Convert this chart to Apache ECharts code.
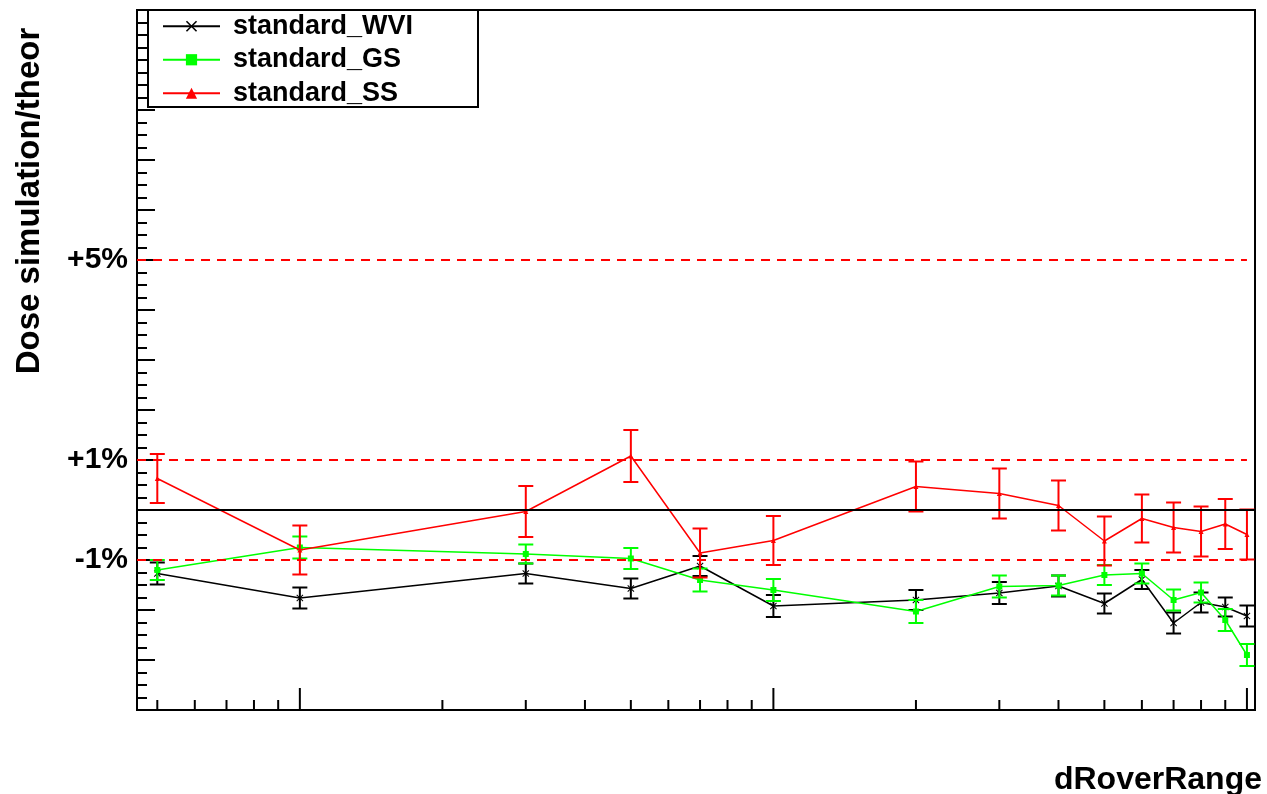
<!DOCTYPE html>
<html>
<head>
<meta charset="utf-8">
<script src="https://cdn.jsdelivr.net/npm/echarts@6/dist/echarts.min.js"></script>
<style>
  html, body { margin: 0; padding: 0; background: #fff; }
  #chart { width: 1267px; height: 794px; }
</style>
</head>
<body>
<div id="chart"></div>
<script>
// dRoverRange sample points (log axis)
const dRoverRange = [0.005, 0.01, 0.03, 0.05, 0.07, 0.1, 0.2, 0.3, 0.4, 0.5, 0.6, 0.7, 0.8, 0.9, 1.0];

// Dose simulation / theory ratio and its statistical error, per configuration
const wviRatio = [0.9873, 0.9824, 0.9873, 0.9843, 0.9888, 0.9808, 0.9820, 0.9834, 0.9848, 0.9813, 0.9861, 0.9774, 0.9815, 0.9806, 0.9788];
const wviError = [0.0022, 0.0021, 0.0020, 0.0020, 0.0020, 0.0022, 0.0020, 0.0022, 0.0021, 0.0020, 0.0019, 0.0021, 0.0020, 0.0019, 0.0021];

const gsRatio = [0.9880, 0.9925, 0.9912, 0.9903, 0.9860, 0.9840, 0.9797, 0.9847, 0.9849, 0.9870, 0.9873, 0.9820, 0.9835, 0.9780, 0.9710];
const gsError = [0.0020, 0.0022, 0.0019, 0.0021, 0.0023, 0.0022, 0.0023, 0.0022, 0.0020, 0.0020, 0.0020, 0.0021, 0.0020, 0.0022, 0.0022];

const ssRatio = [1.0063, 0.9920, 0.9997, 1.0108, 0.9914, 0.9939, 1.0047, 1.0033, 1.0009, 0.9938, 0.9983, 0.9965, 0.9957, 0.9972, 0.9951];
const ssError = [0.0049, 0.0049, 0.0051, 0.0052, 0.0049, 0.0049, 0.0050, 0.0050, 0.0050, 0.0049, 0.0048, 0.0050, 0.0050, 0.0050, 0.0050];

const seriesNames = ['standard_WVI', 'standard_GS', 'standard_SS'];

// Tolerance bands and the unity line
const toleranceLevels = [1.05, 1.01, 0.99];
const unityLevel = 1.0;

// Y tick labels
const yLabelValues = [1.05, 1.01, 0.99];
const yLabelTexts = ['+5%', '+1%', '-1%'];

// X ticks (log decades with sub-decade ticks)
const xMajorTicks = [0.01, 0.1, 1];
const xMinorTicks = [0.005, 0.006, 0.007, 0.008, 0.009,
                     0.02, 0.03, 0.04, 0.05, 0.06, 0.07, 0.08, 0.09,
                     0.2, 0.3, 0.4, 0.5, 0.6, 0.7, 0.8, 0.9];

const X_MIN = 0.00453, X_MAX = 1.04;
const Y_MIN = 0.96, Y_MAX = 1.10;

const FONT = '"Liberation Sans", Arial, Helvetica, sans-serif';
const BLACK = '#000000', GREEN = '#00ff00', RED = '#ff0000';
const CROSS = 'path://M0,1 L1,0 L5,4 L9,0 L10,1 L6,5 L10,9 L9,10 L5,6 L1,10 L0,9 L4,5 Z';

function pairs(xs, ys) { return xs.map((x, i) => [x, ys[i]]); }
function errRows(xs, ys, es) { return xs.map((x, i) => [x, ys[i], es[i]]); }

function errorBarSeries(name, color, rows, z) {
  return {
    type: 'custom',
    name: name,
    data: rows,
    z: z,
    clip: false,
    silent: true,
    encode: { x: 0, y: 1 },
    renderItem: function (params, api) {
      const x = api.value(0), y = api.value(1), e = api.value(2);
      const hi = api.coord([x, y + e]);
      const lo = api.coord([x, y - e]);
      const hw = 7.5;
      const st = { stroke: color, lineWidth: 2 };
      return {
        type: 'group',
        children: [
          { type: 'line', shape: { x1: hi[0], y1: hi[1], x2: lo[0], y2: lo[1] }, style: st },
          { type: 'line', shape: { x1: hi[0] - hw, y1: hi[1], x2: hi[0] + hw, y2: hi[1] }, style: st },
          { type: 'line', shape: { x1: lo[0] - hw, y1: lo[1], x2: lo[0] + hw, y2: lo[1] }, style: st }
        ]
      };
    }
  };
}

const tickRows = xMajorTicks.map(v => [v, Y_MIN, 1]).concat(xMinorTicks.map(v => [v, Y_MIN, 0]));

const lastX = dRoverRange[dRoverRange.length - 1];

const series = [];

// x-axis ticks drawn inward from the bottom axis
series.push({
  type: 'custom',
  name: 'xticks',
  data: tickRows,
  clip: false,
  silent: true,
  z: 6,
  encode: { x: 0, y: 1 },
  renderItem: function (params, api) {
    const p = api.coord([api.value(0), api.value(1)]);
    const len = api.value(2) ? 22 : 10;
    return { type: 'line', shape: { x1: p[0], y1: p[1], x2: p[0], y2: p[1] - len }, style: { stroke: BLACK, lineWidth: 2 } };
  }
});

// data series
series.push({
  type: 'line', name: seriesNames[0], data: pairs(dRoverRange, wviRatio),
  symbol: CROSS, symbolSize: 7, z: 3,
  lineStyle: { color: BLACK, width: 1.5 }, itemStyle: { color: BLACK }
});
series.push(errorBarSeries('WVI error', BLACK, errRows(dRoverRange, wviRatio, wviError), 3));

series.push({
  type: 'line', name: seriesNames[1], data: pairs(dRoverRange, gsRatio),
  symbol: 'rect', symbolSize: 6, z: 4,
  lineStyle: { color: GREEN, width: 1.5 }, itemStyle: { color: GREEN }
});
series.push(errorBarSeries('GS error', GREEN, errRows(dRoverRange, gsRatio, gsError), 4));

series.push({
  type: 'line', name: seriesNames[2], data: pairs(dRoverRange, ssRatio),
  symbol: 'triangle', symbolSize: 5, z: 5,
  lineStyle: { color: RED, width: 1.5 }, itemStyle: { color: RED }
});
series.push(errorBarSeries('SS error', RED, errRows(dRoverRange, ssRatio, ssError), 5));

// tolerance lines (dashed, up to the last sample) and unity line
toleranceLevels.forEach((lv, i) => {
  series.push({
    type: 'line', name: 'tol' + i, data: [[X_MIN, lv], [lastX, lv]],
    symbol: 'none', silent: true, z: 6,
    lineStyle: { color: RED, width: 2, type: [9, 7] }
  });
});
series.push({
  type: 'line', name: 'unity', data: [[X_MIN, unityLevel], [X_MAX, unityLevel]],
  symbol: 'none', silent: true, z: 6,
  lineStyle: { color: BLACK, width: 2 }
});

const chart = echarts.init(document.getElementById('chart'), null, { renderer: 'canvas' });

chart.setOption({
  animation: false,
  backgroundColor: '#ffffff',
  grid: {
    left: 137, right: 12, top: 10, bottom: 84,
    show: true, borderColor: BLACK, borderWidth: 2, backgroundColor: '#ffffff'
  },
  xAxis: {
    type: 'log', logBase: 10, min: X_MIN, max: X_MAX,
    axisLine: { show: true, onZero: false, lineStyle: { color: BLACK, width: 2 } },
    axisTick: { show: false },
    minorTick: { show: false },
    axisLabel: { show: false },
    splitLine: { show: false }
  },
  yAxis: {
    type: 'value', min: Y_MIN, max: Y_MAX, interval: 0.01,
    axisLine: { show: true, lineStyle: { color: BLACK, width: 2 } },
    axisTick: { show: true, inside: true, length: 18, lineStyle: { color: BLACK, width: 2 } },
    minorTick: { show: true, splitNumber: 4, length: 10, lineStyle: { color: BLACK, width: 2 } },
    splitLine: { show: false },
    minorSplitLine: { show: false },
    axisLabel: {
      margin: 9,
      color: BLACK,
      fontFamily: FONT, fontWeight: 'bold', fontSize: 30,
      formatter: function (v) {
        for (let i = 0; i < yLabelValues.length; i++) {
          if (Math.abs(v - yLabelValues[i]) < 1e-6) return yLabelTexts[i];
        }
        return '';
      }
    }
  },
  legend: {
    data: seriesNames,
    orient: 'vertical',
    left: 162, top: 9.5,
    padding: 0,
    itemGap: 0,
    itemWidth: 57, itemHeight: 14,
    z: 8,
    lineStyle: { width: 2 },
    textStyle: {
      color: BLACK, fontFamily: FONT, fontWeight: 'bold', fontSize: 27,
      lineHeight: 33.5, padding: [0, 0, 0, 8]
    },
    selectedMode: false
  },
  graphic: [
    {
      type: 'rect', z: 7,
      shape: { x: 148, y: 10, width: 330, height: 97 },
      style: { fill: '#ffffff', stroke: BLACK, lineWidth: 2 }
    },
    {
      type: 'text', x: 30, y: 201, rotation: Math.PI / 2,
      style: { text: 'Dose simulation/theor', font: 'bold 33px ' + FONT, fill: BLACK, align: 'center', verticalAlign: 'middle' }
    },
    {
      type: 'text', x: 1262, y: 780,
      style: { text: 'dRoverRange', font: 'bold 32px ' + FONT, fill: BLACK, align: 'right', verticalAlign: 'middle' }
    }
  ],
  series: series
});
</script>
</body>
</html>
